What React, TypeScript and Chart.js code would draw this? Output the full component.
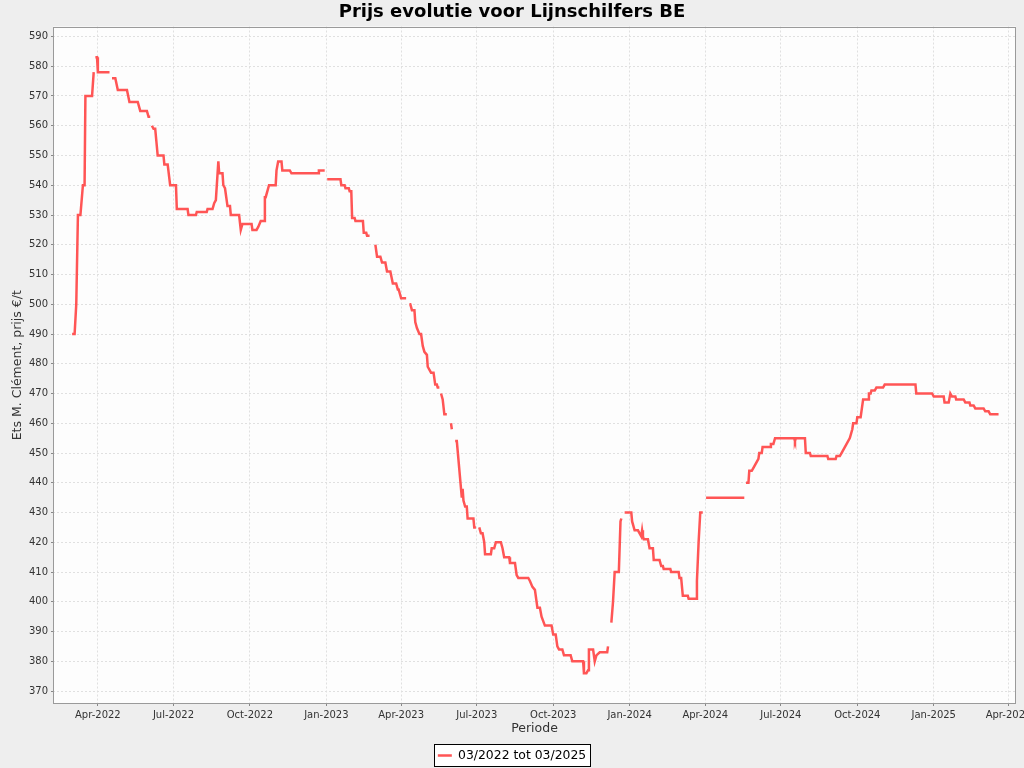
import { useEffect, useRef } from 'react';
import { Chart, registerables } from 'chart.js';

Chart.register(...registerables);

const TITLE = 'Prijs evolutie voor Lijnschilfers BE';
const Y_LABEL = 'Ets M. Clément, prijs €/t';
const X_LABEL = 'Periode';
const SERIES_LABEL = '03/2022 tot 03/2025';

// Breakpoints of the price line (null = gap in the data)
const dates: string[] = [
  '2022-03-01', '2022-03-04', '2022-03-06', '2022-03-08', '2022-03-11', '2022-03-14', '2022-03-16', '2022-03-17',
  '2022-03-25', '2022-03-27', '2022-03-28', '2022-03-29', '2022-03-31', '2022-04-01', '2022-04-15', '2022-04-16',
  '2022-04-18', '2022-04-22', '2022-04-25', '2022-05-06', '2022-05-09', '2022-05-19', '2022-05-22', '2022-05-30',
  '2022-06-01', '2022-06-03', '2022-06-04', '2022-06-05', '2022-06-07', '2022-06-09', '2022-06-12', '2022-06-19',
  '2022-06-20', '2022-06-24', '2022-06-27', '2022-07-04', '2022-07-05', '2022-07-18', '2022-07-19', '2022-07-28',
  '2022-07-29', '2022-08-10', '2022-08-11', '2022-08-17', '2022-08-19', '2022-08-21', '2022-08-24', '2022-08-25',
  '2022-08-29', '2022-08-30', '2022-09-01', '2022-09-04', '2022-09-07', '2022-09-08', '2022-09-18', '2022-09-20',
  '2022-09-22', '2022-10-03', '2022-10-04', '2022-10-09', '2022-10-11', '2022-10-14', '2022-10-18', '2022-10-19',
  '2022-10-20', '2022-10-24', '2022-11-01', '2022-11-02', '2022-11-04', '2022-11-08', '2022-11-09', '2022-11-18',
  '2022-11-20', '2022-12-22', '2022-12-23', '2022-12-30', '2022-12-31', '2023-01-02', '2023-01-18', '2023-01-19',
  '2023-01-23', '2023-01-24', '2023-01-28', '2023-01-29', '2023-01-31', '2023-02-01', '2023-02-04', '2023-02-05',
  '2023-02-14', '2023-02-15', '2023-02-18', '2023-02-19', '2023-02-22', '2023-02-25', '2023-03-01', '2023-03-03',
  '2023-03-07', '2023-03-09', '2023-03-13', '2023-03-15', '2023-03-19', '2023-03-22', '2023-03-26', '2023-03-28',
  '2023-03-29', '2023-04-01', '2023-04-07', '2023-04-09', '2023-04-11', '2023-04-12', '2023-04-14', '2023-04-17',
  '2023-04-18', '2023-04-20', '2023-04-23', '2023-04-25', '2023-04-27', '2023-04-29', '2023-05-02', '2023-05-03',
  '2023-05-07', '2023-05-10', '2023-05-12', '2023-05-14', '2023-05-15', '2023-05-17', '2023-05-18', '2023-05-19',
  '2023-05-21', '2023-05-23', '2023-05-26', '2023-05-28', '2023-05-31', '2023-06-01', '2023-06-03', '2023-06-05',
  '2023-06-07', '2023-06-13', '2023-06-14', '2023-06-15', '2023-06-17', '2023-06-19', '2023-06-20', '2023-06-27',
  '2023-06-28', '2023-06-30', '2023-07-02', '2023-07-04', '2023-07-06', '2023-07-08', '2023-07-10', '2023-07-11',
  '2023-07-18', '2023-07-19', '2023-07-22', '2023-07-24', '2023-07-30', '2023-08-01', '2023-08-03', '2023-08-09',
  '2023-08-10', '2023-08-16', '2023-08-18', '2023-08-20', '2023-09-01', '2023-09-03', '2023-09-06', '2023-09-09',
  '2023-09-12', '2023-09-15', '2023-09-17', '2023-09-21', '2023-09-29', '2023-10-01', '2023-10-04', '2023-10-06',
  '2023-10-08', '2023-10-12', '2023-10-14', '2023-10-22', '2023-10-24', '2023-11-06', '2023-11-07', '2023-11-10',
  '2023-11-12', '2023-11-13', '2023-11-18', '2023-11-20', '2023-11-22', '2023-11-26', '2023-12-05', '2023-12-06',
  '2023-12-07', '2023-12-08', '2023-12-10', '2023-12-12', '2023-12-14', '2023-12-19', '2023-12-21', '2023-12-22',
  '2023-12-24', '2023-12-26', '2024-01-03', '2024-01-04', '2024-01-07', '2024-01-11', '2024-01-13', '2024-01-15',
  '2024-01-16', '2024-01-17', '2024-01-18', '2024-01-23', '2024-01-25', '2024-01-29', '2024-01-30', '2024-02-06',
  '2024-02-08', '2024-02-10', '2024-02-11', '2024-02-19', '2024-02-20', '2024-02-29', '2024-03-01', '2024-03-03',
  '2024-03-05', '2024-03-11', '2024-03-12', '2024-03-21', '2024-03-22', '2024-03-24', '2024-03-26', '2024-03-29',
  '2024-03-31', '2024-04-02', '2024-05-18', '2024-05-19', '2024-05-20', '2024-05-23', '2024-05-24', '2024-05-27',
  '2024-05-29', '2024-05-31', '2024-06-02', '2024-06-04', '2024-06-05', '2024-06-08', '2024-06-09', '2024-06-18',
  '2024-06-19', '2024-06-22', '2024-06-24', '2024-07-17', '2024-07-18', '2024-07-19', '2024-07-30', '2024-07-31',
  '2024-08-05', '2024-08-06', '2024-08-26', '2024-08-27', '2024-09-05', '2024-09-06', '2024-09-10', '2024-09-12',
  '2024-09-16', '2024-09-22', '2024-09-25', '2024-09-26', '2024-09-30', '2024-10-01', '2024-10-05', '2024-10-08',
  '2024-10-14', '2024-10-15', '2024-10-17', '2024-10-18', '2024-10-22', '2024-10-24', '2024-11-01', '2024-11-03',
  '2024-12-10', '2024-12-11', '2024-12-30', '2025-01-01', '2025-01-13', '2025-01-14', '2025-01-19', '2025-01-21',
  '2025-01-23', '2025-01-27', '2025-01-28', '2025-02-06', '2025-02-08', '2025-02-13', '2025-02-14', '2025-02-18',
  '2025-02-20', '2025-03-02', '2025-03-04', '2025-03-08', '2025-03-10', '2025-03-20',
];

const prices: (number | null)[] = [
  490, 490, 500, 530, 530, 540, 540, 570,
  570, 578, null, 583, 583, 578, 578, null,
  576, 576, 572, 572, 568, 568, 565, 565,
  563, 563, null, 560, 559, 559, 550, 550,
  547, 547, 540, 540, 532, 532, 530, 530,
  531, 531, 532, 532, 534, 535, 548, 544,
  544, 540, 539, 533, 533, 530, 530, 525,
  527, 527, 525, 525, 526, 528, 528, 536,
  536, 540, 540, 545, 548, 548, 545, 545,
  544, 544, 545, 545, null, 542, 542, 540,
  540, 539, 539, 538, 538, 529, 529, 528,
  528, 524, 524, 523, 523, null, 520, 516,
  516, 514, 514, 511, 511, 507, 507, 505,
  505, 502, 502, null, 500, 500, 498, 498,
  494, 492, 490, 490, 486, 484, 483, 479,
  477, 477, 473, 473, 472, 472, null, 470,
  468, 463, 463, null, 460, 458, null, 454,
  454, 435, 438, 434, 432, 432, 428, 428,
  425, 425, null, 425, 423, 423, 420, 416,
  416, 418, 418, 420, 420, 418, 415, 415,
  413, 413, 409, 408, 408, 407, 405, 404,
  398, 398, 395, 392, 392, 389, 389, 385,
  384, 384, 382, 382, 380, 380, 376, 376,
  377, 384, 384, 380, 382, 383, 383, 385,
  385, null, 393, 400, 410, 410, 427, 428,
  null, 430, 430, 427, 424, 424, 423, 422,
  424, 422, 421, 421, 418, 418, 414, 414,
  412, 412, 411, 411, 410, 410, 408, 408,
  402, 402, 401, 401, 407, 420, 430, 430,
  null, 435, 435, null, 440, 440, 444, 444,
  445, 446, 447, 448, 450, 450, 452, 452,
  453, 453, 455, 455, 454, 455, 455, 450,
  450, 449, 449, 448, 448, 449, 449, 450,
  452, 455, 458, 460, 460, 462, 462, 468,
  468, 470, 470, 471, 471, 472, 472, 473,
  473, 470, 470, 469, 469, 467, 467, 470,
  469, 469, 468, 468, 467, 467, 466, 466,
  465, 465, 464, 464, 463, 463,
];

const xTickDates: string[] = [
  '2022-04-01', '2022-07-01', '2022-10-01', '2023-01-01', '2023-04-01', '2023-07-01', '2023-10-01',
  '2024-01-01', '2024-04-01', '2024-07-01', '2024-10-01', '2025-01-01', '2025-04-01',
];
const xTickLabels: string[] = [
  'Apr-2022', 'Jul-2022', 'Oct-2022', 'Jan-2023', 'Apr-2023', 'Jul-2023', 'Oct-2023',
  'Jan-2024', 'Apr-2024', 'Jul-2024', 'Oct-2024', 'Jan-2025', 'Apr-2025',
];
const yTicks: number[] = [370, 380, 390, 400, 410, 420, 430, 440, 450, 460, 470, 480, 490, 500, 510, 520, 530, 540, 550, 560, 570, 580, 590];

const X_MIN_DATE = '2022-02-06';
const X_MAX_DATE = '2025-04-10';
const Y_MIN = 365.64;
const Y_MAX = 593.36;

const FONT = 'DejaVu Sans';

const dayNum = (s: string): number => {
  const [y, m, d] = s.split('-').map(Number);
  return Date.UTC(y, m - 1, d) / 86400000;
};

const framePlugin = {
  id: 'frame',
  beforeDraw(chart: any) {
    const { ctx, chartArea } = chart;
    ctx.save();
    ctx.fillStyle = '#fdfdfd';
    ctx.fillRect(chartArea.left, chartArea.top, chartArea.right - chartArea.left, chartArea.bottom - chartArea.top);
    const lg = chart.legend;
    if (lg && lg.legendHitBoxes && lg.legendHitBoxes.length) {
      const hb = lg.legendHitBoxes[0];
      const cy = hb.top + hb.height / 2;
      const l = Math.round(hb.left - 4) + 0.5;
      const t = Math.round(cy - 11.2) + 0.5;
      const w = Math.round(hb.width + 8);
      ctx.fillStyle = '#ffffff';
      ctx.fillRect(l, t, w, 22);
      ctx.strokeStyle = '#000000';
      ctx.lineWidth = 1;
      ctx.strokeRect(l, t, w, 22);
    }
    ctx.restore();
  },
  afterDraw(chart: any) {
    const { ctx, chartArea } = chart;
    ctx.save();
    ctx.strokeStyle = '#9a9a9a';
    ctx.lineWidth = 1;
    const l = Math.round(chartArea.left) + 0.5;
    const t = Math.round(chartArea.top) + 0.5;
    const r = Math.round(chartArea.right) - 0.5;
    const b = Math.round(chartArea.bottom) - 0.5;
    ctx.strokeRect(l, t, r - l, b - t);
    ctx.restore();
  },
};

export default function App() {
  const canvasRef = useRef<HTMLCanvasElement | null>(null);

  useEffect(() => {
    if (!canvasRef.current) return;
    const points = dates.map((d, i) => ({ x: dayNum(d), y: prices[i] }));
    const chart = new Chart(canvasRef.current, {
      type: 'line',
      data: {
        datasets: [
          {
            label: SERIES_LABEL,
            data: points as any,
            borderColor: '#ff5555',
            backgroundColor: '#ff5555',
            borderWidth: 2.5,
            pointRadius: 0,
            pointHoverRadius: 0,
            tension: 0,
            spanGaps: false,
            fill: false,
          },
        ],
      },
      options: {
        animation: false,
        responsive: false,
        parsing: false as any,
        events: [],
        layout: { padding: { left: 0, right: 0, top: 0, bottom: -3.7 } },
        plugins: {
          title: {
            display: true,
            text: TITLE,
            color: '#000000',
            font: { family: FONT, size: 18, weight: 'bold' },
            padding: { top: 1.7, bottom: 3.2 },
          },
          legend: {
            display: true,
            position: 'bottom',
            labels: {
              usePointStyle: true,
              pointStyle: 'line',
              pointStyleWidth: 14,
              padding: 8.8,
              color: '#000000',
              font: { family: FONT, size: 12.4 },
            },
          },
          tooltip: { enabled: false },
        },
        scales: {
          x: {
            type: 'linear',
            min: dayNum(X_MIN_DATE),
            max: dayNum(X_MAX_DATE),
            afterBuildTicks: (s: any) => {
              s.ticks = xTickDates.map((d) => ({ value: dayNum(d) }));
            },
            afterFit: (s: any) => {
              s.height = 36.5;
              s.paddingLeft = 0;
              s.paddingRight = 8;
            },
            ticks: {
              autoSkip: false,
              maxRotation: 0,
              minRotation: 0,
              padding: 3,
              color: '#333333',
              font: { family: FONT, size: 10 },
              callback: (v: any) => {
                const i = xTickDates.findIndex((d) => dayNum(d) === v);
                return i >= 0 ? xTickLabels[i] : '';
              },
            },
            grid: { color: '#e0e0e0', lineWidth: 1, tickLength: 2, tickColor: '#888888', tickWidth: 1 },
            border: { display: false, dash: [2, 2] },
            title: {
              display: true,
              text: X_LABEL,
              color: '#333333',
              font: { family: FONT, size: 12.5 },
              padding: { top: 0, bottom: 4 },
            },
          },
          y: {
            type: 'linear',
            min: Y_MIN,
            max: Y_MAX,
            afterBuildTicks: (s: any) => {
              s.ticks = yTicks.map((v) => ({ value: v }));
            },
            afterFit: (s: any) => {
              s.width = 53;
            },
            ticks: {
              padding: 3,
              color: '#333333',
              font: { family: FONT, size: 10 },
              callback: (v: any) => String(v),
            },
            grid: { color: '#e0e0e0', lineWidth: 1, tickLength: 2, tickColor: '#888888', tickWidth: 1 },
            border: { display: false, dash: [2, 2] },
            title: {
              display: true,
              text: Y_LABEL,
              color: '#333333',
              font: { family: FONT, size: 12.5 },
              padding: { top: 10.5, bottom: 0 },
            },
          },
        },
      },
      plugins: [framePlugin],
    } as any);
    return () => chart.destroy();
  }, []);

  return (
    <div style={{ position: 'absolute', left: 0, top: 0, width: 1024, height: 768, background: '#eeeeee' }}>
      <canvas ref={canvasRef} width={1024} height={768} style={{ display: 'block' }} />
    </div>
  );
}
